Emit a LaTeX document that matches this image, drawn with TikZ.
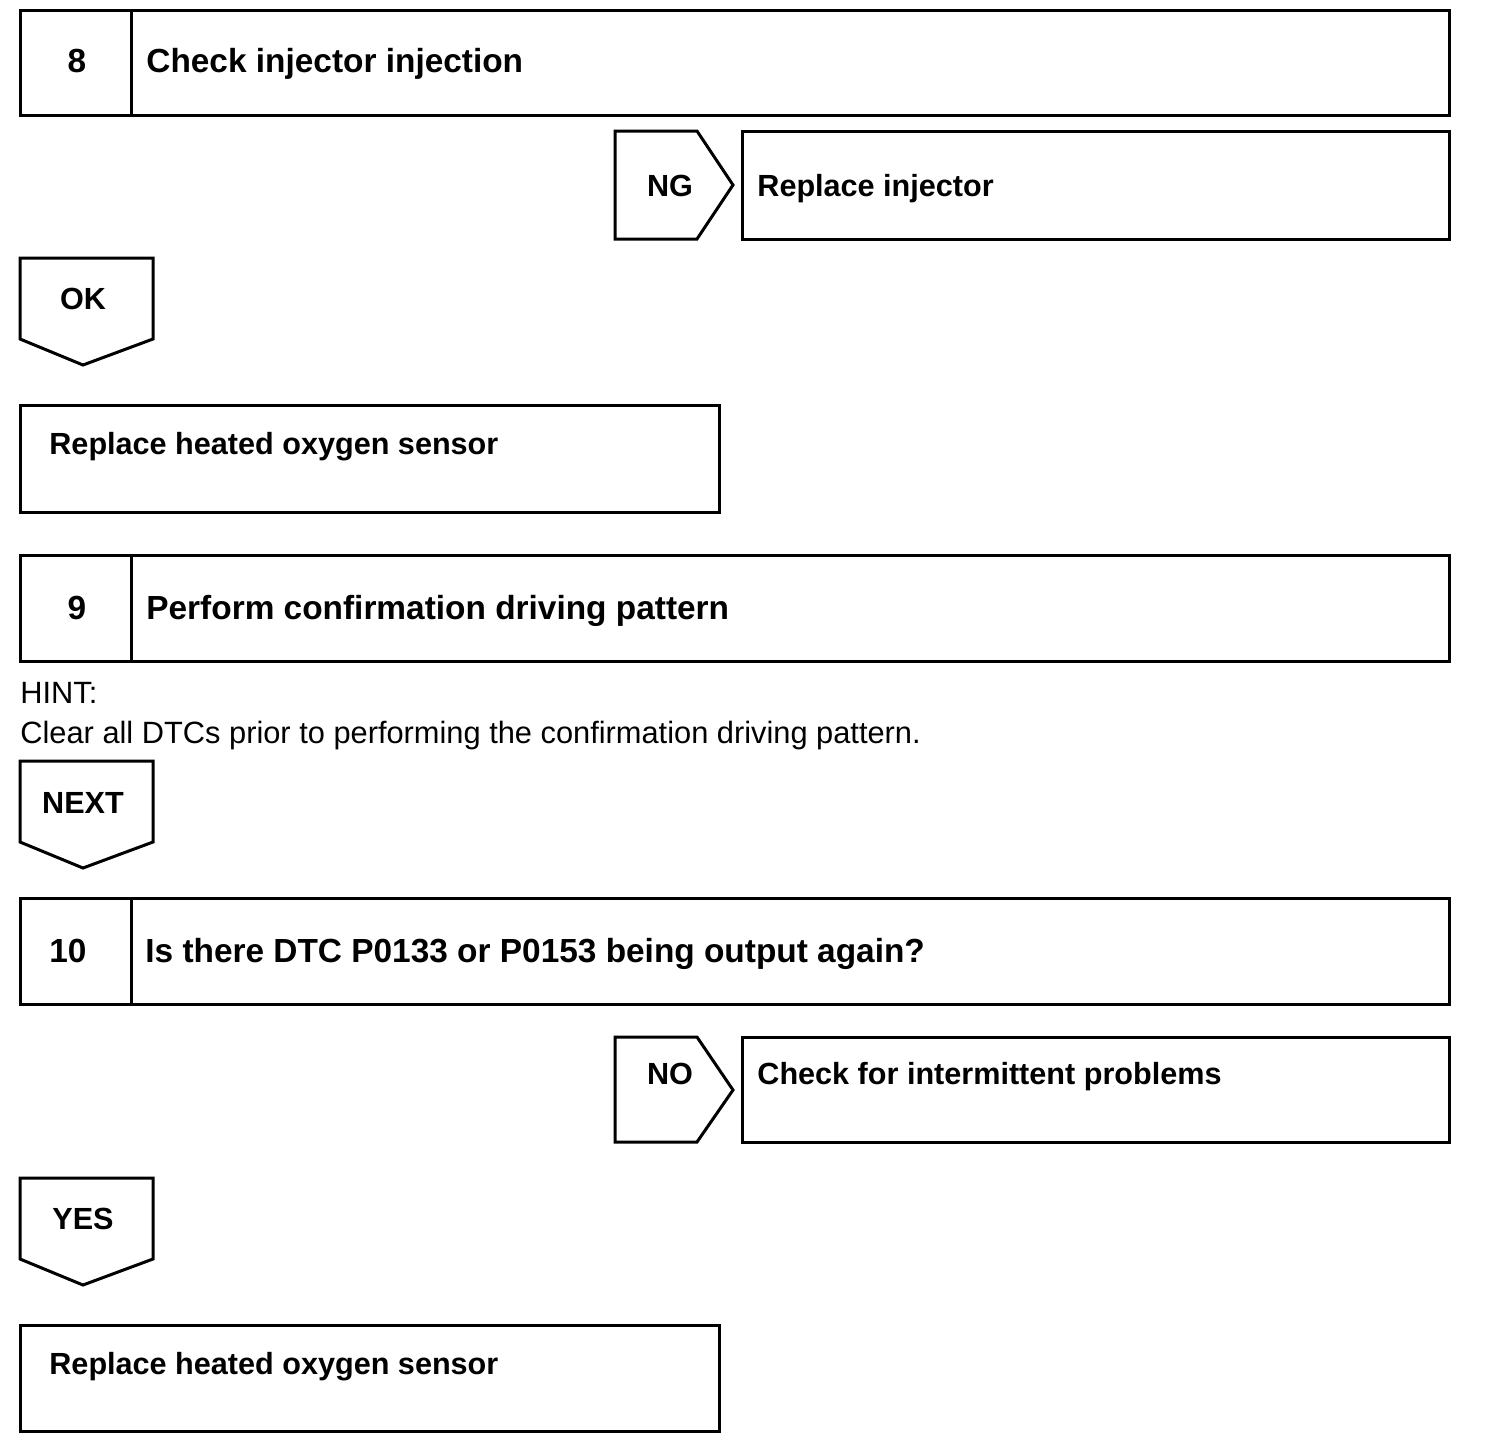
\documentclass[tikz,border=0pt]{standalone}
\usepackage{fontspec}
\setmainfont{Liberation Sans}
\usepackage{tikz}

\tikzset{
  frame/.style={draw, line width=1.5pt, line join=miter},
  head/.style={font=\bfseries\fontsize{16.7}{20}\selectfont, inner sep=0pt},
  act/.style={font=\bfseries\fontsize{15.3}{18}\selectfont, inner sep=0pt},
  plain/.style={font=\fontsize{15.4}{18}\selectfont, inner sep=0pt, anchor=base west},
}

\begin{document}
\begin{tikzpicture}[x=0.5pt, y=-0.5pt]
      \useasboundingbox (0,0) rectangle (1504,1448);
      % step 8
      \draw[frame] (20,10) rectangle (1449,115) (131,10) -- (131,115);
      \node[head, anchor=base]      (n8) at (77,72)  {8};
      \node[head, anchor=base west] (s8) at (146,72) {Check injector injection};
      % NG branch
      \draw[frame] (615,131) -- (697,131) -- (733,185) -- (697,239) -- (615,239) -- cycle;
      \node[act, anchor=base]      (ng) at (670,196) {NG};
      \draw[frame] (742,131) rectangle (1449,239);
      \node[act, anchor=base west] (inj) at (757,196) {Replace injector};
      % OK branch
      \draw[frame] (20,258) -- (153,258) -- (153,339) -- (83,365) -- (20,339) -- cycle;
      \node[act, anchor=base]      (ok) at (83,309) {OK};
      \draw[frame] (20,405) rectangle (719,512);
      \node[act, anchor=base west] (hos1) at (49,454) {Replace heated oxygen sensor};
      % step 9
      \draw[frame] (20,555) rectangle (1449,661) (131,555) -- (131,661);
      \node[head, anchor=base]      (n9) at (77,619)  {9};
      \node[head, anchor=base west] (s9) at (146,619) {Perform confirmation driving pattern};
      \node[plain] (hint) at (20,703) {HINT:};
      \node[plain] (clear) at (20,743) {Clear all DTCs prior to performing the confirmation driving pattern.};
      \draw[frame] (20,761) -- (153,761) -- (153,842) -- (83,868) -- (20,842) -- cycle;
      \node[act, anchor=base]      (next) at (83,813) {NEXT};
      % step 10
      \draw[frame] (20,898) rectangle (1449,1004) (131,898) -- (131,1004);
      \node[head, anchor=base]      (n10) at (68,962)  {10};
      \node[head, anchor=base west] (s10) at (145,962) {Is there DTC P0133 or P0153 being output again?};
      % NO branch
      \draw[frame] (615,1037) -- (697,1037) -- (733,1090) -- (697,1142) -- (615,1142) -- cycle;
      \node[act, anchor=base]      (no) at (670,1084) {NO};
      \draw[frame] (742,1037) rectangle (1449,1142);
      \node[act, anchor=base west] (chk) at (757,1084) {Check for intermittent problems};
      % YES branch
      \draw[frame] (20,1178) -- (153,1178) -- (153,1259) -- (83,1285) -- (20,1259) -- cycle;
      \node[act, anchor=base]      (yes) at (83,1229) {YES};
      \draw[frame] (20,1325) rectangle (719,1431);
      \node[act, anchor=base west] (hos2) at (49,1374) {Replace heated oxygen sensor};
\end{tikzpicture}
\end{document}
